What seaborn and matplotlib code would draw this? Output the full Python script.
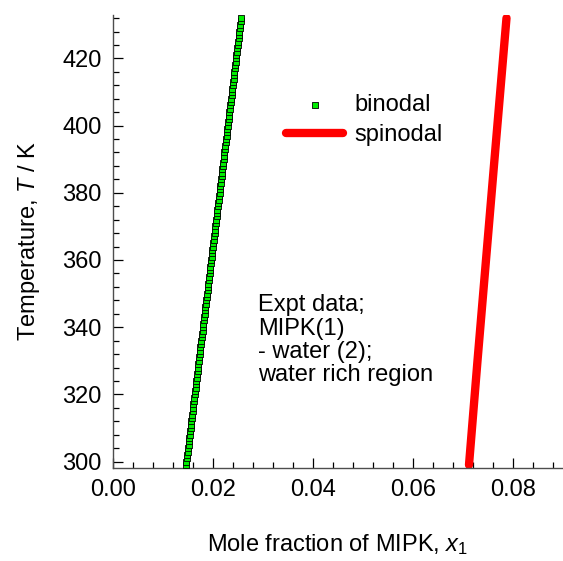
import matplotlib
matplotlib.use("Agg")
import matplotlib.pyplot as plt
import seaborn as sns
import pandas as pd
from matplotlib.ticker import MultipleLocator

# binodal (expt data)
temp_binodal = [
    299, 300, 301, 302, 303, 304, 305, 306, 307, 308,
    309, 310, 311, 312, 313, 314, 315, 316, 317, 318,
    319, 320, 321, 322, 323, 324, 325, 326, 327, 328,
    329, 330, 331, 332, 333, 334, 335, 336, 337, 338,
    339, 340, 341, 342, 343, 344, 345, 346, 347, 348,
    349, 350, 351, 352, 353, 354, 355, 356, 357, 358,
    359, 360, 361, 362, 363, 364, 365, 366, 367, 368,
    369, 370, 371, 372, 373, 374, 375, 376, 377, 378,
    379, 380, 381, 382, 383, 384, 385, 386, 387, 388,
    389, 390, 391, 392, 393, 394, 395, 396, 397, 398,
    399, 400, 401, 402, 403, 404, 405, 406, 407, 408,
    409, 410, 411, 412, 413, 414, 415, 416, 417, 418,
    419, 420, 421, 422, 423, 424, 425, 426, 427, 428,
    429, 430, 431, 432,
]
x_binodal = [
    0.01460, 0.01468, 0.01477, 0.01485, 0.01493, 0.01501, 0.01510, 0.01518, 0.01526, 0.01534,
    0.01543, 0.01551, 0.01559, 0.01568, 0.01576, 0.01584, 0.01592, 0.01601, 0.01609, 0.01617,
    0.01625, 0.01634, 0.01642, 0.01650, 0.01658, 0.01667, 0.01675, 0.01683, 0.01692, 0.01700,
    0.01708, 0.01716, 0.01725, 0.01733, 0.01741, 0.01749, 0.01758, 0.01766, 0.01774, 0.01783,
    0.01791, 0.01799, 0.01807, 0.01816, 0.01824, 0.01832, 0.01840, 0.01849, 0.01857, 0.01865,
    0.01873, 0.01882, 0.01890, 0.01898, 0.01907, 0.01915, 0.01923, 0.01931, 0.01940, 0.01948,
    0.01956, 0.01964, 0.01973, 0.01981, 0.01989, 0.01998, 0.02006, 0.02014, 0.02022, 0.02031,
    0.02039, 0.02047, 0.02055, 0.02064, 0.02072, 0.02080, 0.02089, 0.02097, 0.02105, 0.02113,
    0.02122, 0.02130, 0.02138, 0.02146, 0.02155, 0.02163, 0.02171, 0.02180, 0.02188, 0.02196,
    0.02204, 0.02213, 0.02221, 0.02229, 0.02237, 0.02246, 0.02254, 0.02262, 0.02270, 0.02279,
    0.02287, 0.02295, 0.02304, 0.02312, 0.02320, 0.02328, 0.02337, 0.02345, 0.02353, 0.02361,
    0.02370, 0.02378, 0.02386, 0.02395, 0.02403, 0.02411, 0.02419, 0.02428, 0.02436, 0.02444,
    0.02452, 0.02461, 0.02469, 0.02477, 0.02486, 0.02494, 0.02502, 0.02510, 0.02519, 0.02527,
    0.02535, 0.02543, 0.02552, 0.02560,
]

# spinodal
temp_spinodal = [299, 330, 360, 390, 432]
x_spinodal = [0.0712, 0.0729, 0.0746, 0.0763, 0.0787]

note = "Expt data;\nMIPK(1)\n- water (2);\nwater rich region"

sns.set_theme(style="ticks")
plt.rcParams["font.family"] = ["Liberation Sans", "DejaVu Sans"]
plt.rcParams["mathtext.fontset"] = "custom"
plt.rcParams["mathtext.rm"] = "Liberation Sans"
plt.rcParams["mathtext.it"] = "Liberation Sans:italic"
plt.rcParams["text.color"] = "black"
plt.rcParams["axes.labelcolor"] = "black"

df_bin = pd.DataFrame({"x": x_binodal, "T": temp_binodal})
df_spin = pd.DataFrame({"x": x_spinodal, "T": temp_spinodal})

fig = plt.figure(figsize=(5.63, 5.61), dpi=100)
ax = fig.add_axes([113 / 563, 92.7 / 561, 450 / 563, 453.6 / 561])

sns.lineplot(data=df_spin, x="x", y="T", ax=ax, color="#ff0000", linewidth=6,
             sort=False, estimator=None, solid_capstyle="round", label="spinodal", zorder=2)
sns.scatterplot(data=df_bin, x="x", y="T", ax=ax, marker="s", s=16, color="#00ee00",
                edgecolor="black", linewidth=0.6, label="binodal", zorder=3)

ax.set_xlim(0, 0.09)
ax.set_ylim(298, 433)
ax.xaxis.set_major_locator(MultipleLocator(0.02))
ax.xaxis.set_minor_locator(MultipleLocator(0.004))
ax.yaxis.set_major_locator(MultipleLocator(20))
ax.yaxis.set_minor_locator(MultipleLocator(4))
ax.xaxis.set_major_formatter(matplotlib.ticker.FormatStrFormatter("%.2f"))

ax.tick_params(which="major", direction="in", length=7.5, width=0.9, color="black",
               labelsize=17, labelcolor="black", pad=8)
ax.tick_params(which="minor", direction="in", length=4.5, width=0.9, color="black")
ax.tick_params(axis="x", which="both", top=False)
ax.tick_params(axis="y", which="both", right=False)
sns.despine(ax=ax)
for s in ["left", "bottom"]:
    ax.spines[s].set_color("0.3")
    ax.spines[s].set_linewidth(1.0)

ax.set_xlabel("Mole fraction of MIPK, $x_1$", fontsize=17, labelpad=22, color="black")
ax.set_ylabel("Temperature, $T$ / K", fontsize=17, labelpad=15, color="black")

handles, labels = ax.get_legend_handles_labels()
order = [labels.index("binodal"), labels.index("spinodal")]
ax.legend([handles[i] for i in order], [labels[i] for i in order],
          loc="upper left", bbox_to_anchor=(0.385, 0.825), frameon=False,
          fontsize=17, handlelength=2.4, handletextpad=0.5, labelspacing=0.35,
          borderpad=0, borderaxespad=0)

ax.text(0.029, 349.8, note, fontsize=17, linespacing=1.08, ha="left", va="top")

fig.savefig("out.png", dpi=100)
